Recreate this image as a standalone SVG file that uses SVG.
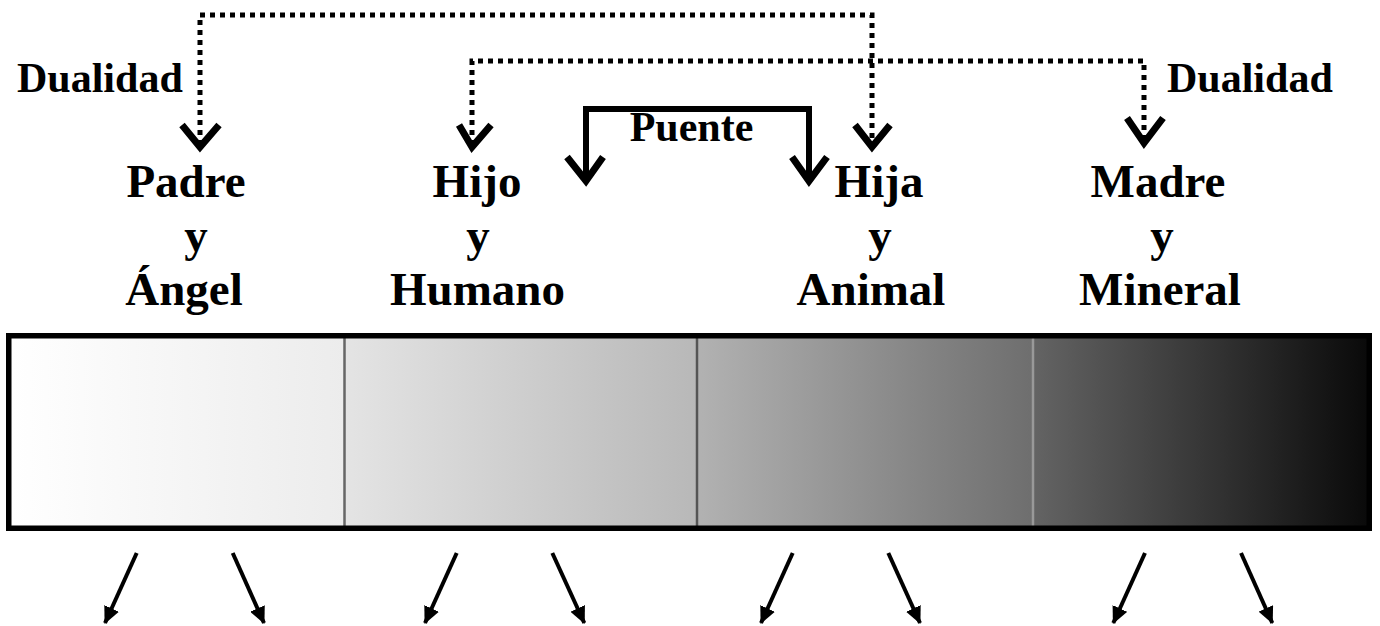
<svg xmlns="http://www.w3.org/2000/svg" width="1380" height="626" viewBox="0 0 1380 626">
<defs>
<style>
.lbl{font-family:"Liberation Serif","Times New Roman",serif;font-weight:bold;fill:#000}
.big{font-size:47px}
.small{font-size:42px}
.dot{fill:none;stroke:#000;stroke-width:5;stroke-dasharray:5 5}
.chev{fill:none;stroke:#000;stroke-width:7;stroke-linejoin:miter;stroke-linecap:butt}
.solid{fill:none;stroke:#000;stroke-width:6}
.arr{stroke:#000;stroke-width:4;marker-end:url(#ah)}
</style>
<marker id="ah" markerUnits="userSpaceOnUse" markerWidth="18" markerHeight="16" refX="16" refY="8" orient="auto">
<path d="M0,0 L17,8 L0,16 Z" fill="#000"/>
</marker>
<linearGradient id="g1" x1="0" y1="0" x2="1" y2="0"><stop offset="0" stop-color="#ffffff"/><stop offset="1" stop-color="#ececec"/></linearGradient>
<linearGradient id="g2" x1="0" y1="0" x2="1" y2="0"><stop offset="0" stop-color="#e4e4e4"/><stop offset="1" stop-color="#b8b8b8"/></linearGradient>
<linearGradient id="g3" x1="0" y1="0" x2="1" y2="0"><stop offset="0" stop-color="#b2b2b2"/><stop offset="1" stop-color="#6e6e6e"/></linearGradient>
<linearGradient id="g4" x1="0" y1="0" x2="1" y2="0"><stop offset="0" stop-color="#646464"/><stop offset="1" stop-color="#0a0a0a"/></linearGradient>
</defs>
<rect width="1380" height="626" fill="#fff"/>

<g id="bar">
<rect x="11" y="338" width="334" height="188" fill="url(#g1)"/>
<rect x="345" y="338" width="352" height="188" fill="url(#g2)"/>
<rect x="697" y="338" width="336" height="188" fill="url(#g3)"/>
<rect x="1033" y="338" width="334" height="188" fill="url(#g4)"/>
<line x1="344.5" y1="336" x2="344.5" y2="528" stroke="#666" stroke-width="2.5"/>
<line x1="697" y1="336" x2="697" y2="528" stroke="#555" stroke-width="2.5"/>
<line x1="1033" y1="336" x2="1033" y2="528" stroke="#999" stroke-width="2.5"/>
<rect x="8.75" y="335.75" width="1360.5" height="192.5" fill="none" stroke="#000" stroke-width="5.5"/>
</g>

<g id="padre">
<text class="lbl big" x="186" y="197" text-anchor="middle">Padre</text>
<text class="lbl big" x="196" y="251" text-anchor="middle">y</text>
<text class="lbl big" x="184" y="305" text-anchor="middle">Ángel</text>
</g>
<g id="hijo">
<text class="lbl big" x="477" y="197" text-anchor="middle">Hijo</text>
<text class="lbl big" x="478" y="251" text-anchor="middle">y</text>
<text class="lbl big" x="477.5" y="305" text-anchor="middle">Humano</text>
</g>
<g id="hija">
<text class="lbl big" x="879" y="197" text-anchor="middle">Hija</text>
<text class="lbl big" x="880" y="251" text-anchor="middle">y</text>
<text class="lbl big" x="871" y="305" text-anchor="middle">Animal</text>
</g>
<g id="madre">
<text class="lbl big" x="1158" y="197" text-anchor="middle">Madre</text>
<text class="lbl big" x="1162" y="251" text-anchor="middle">y</text>
<text class="lbl big" x="1160" y="305" text-anchor="middle">Mineral</text>
</g>
<g id="labels">
<text class="lbl small" x="17" y="92">Dualidad</text>
<text class="lbl small" x="1167" y="92">Dualidad</text>
<text class="lbl small" x="691.5" y="141" text-anchor="middle">Puente</text>
</g>

<g id="connectors">
<path class="dot" d="M200,145 V15 H872 V145"/>
<path class="chev" d="M182,125 L200,147 L219,125"/>
<path class="chev" d="M855,125 L872,147 L890,125"/>
<path class="dot" d="M472,145 V61 H1144 V142"/>
<path class="chev" d="M459,125 L472,147 L491,125"/>
<path class="chev" d="M1127,118 L1144,143 L1163,118"/>
<path class="solid" d="M586,180 V109 H809 V180"/>
<path class="chev" d="M567,157 L586,181 L603,157"/>
<path class="chev" d="M792,157 L809,181 L827,157"/>
<line class="arr" x1="136.7" y1="553" x2="105" y2="623"/>
<line class="arr" x1="232.7" y1="553" x2="264" y2="623"/>
<line class="arr" x1="456.7" y1="553" x2="425" y2="623"/>
<line class="arr" x1="552.3" y1="553" x2="584.3" y2="623"/>
<line class="arr" x1="792.7" y1="553" x2="761" y2="623"/>
<line class="arr" x1="888.3" y1="553" x2="920" y2="623"/>
<line class="arr" x1="1145" y1="553" x2="1113.3" y2="623"/>
<line class="arr" x1="1241" y1="553" x2="1272.3" y2="623"/>
</g>
</svg>
